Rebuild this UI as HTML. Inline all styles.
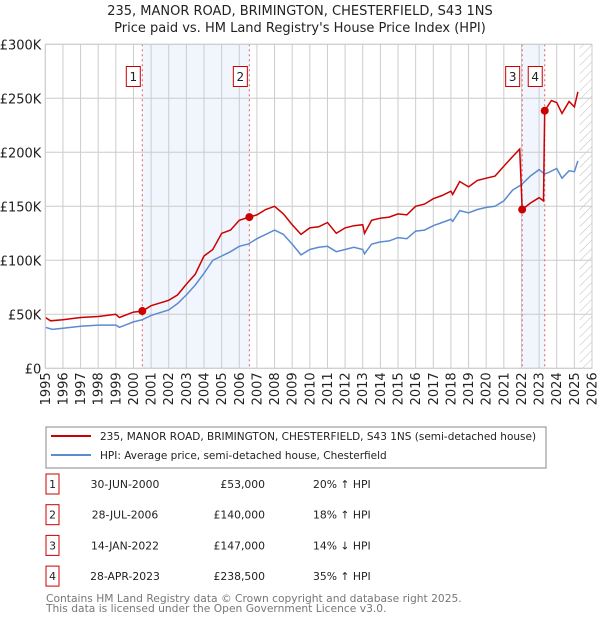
<!DOCTYPE html>
<html><head><meta charset="utf-8"><style>
body{margin:0;background:#fff;font-family:"Liberation Sans","DejaVu Sans",sans-serif;}
svg text{font-family:"DejaVu Sans","Liberation Sans",sans-serif;}
</style></head><body>
<svg width="600" height="620" xmlns="http://www.w3.org/2000/svg">
<defs><pattern id="hatch" width="6" height="6" patternUnits="userSpaceOnUse" patternTransform="rotate(45)"><line x1="0" y1="0" x2="0" y2="6" stroke="#bbb" stroke-width="1"/></pattern></defs>
<text x="300" y="15" text-anchor="middle" font-size="13" fill="#222">235, MANOR ROAD, BRIMINGTON, CHESTERFIELD, S43 1NS</text>
<text x="300" y="32" text-anchor="middle" font-size="13" fill="#222">Price paid vs. HM Land Registry's House Price Index (HPI)</text>
<g id="plot"></g>
<rect x="46" y="427" width="500" height="41" fill="#fff" stroke="#888"/>
<line x1="51" y1="436" x2="91" y2="436" stroke="#cc0000" stroke-width="2"/>
<text x="100" y="440" font-size="10.5" fill="#222">235, MANOR ROAD, BRIMINGTON, CHESTERFIELD, S43 1NS (semi-detached house)</text>
<line x1="51" y1="455" x2="91" y2="455" stroke="#5b8bd0" stroke-width="2"/>
<text x="100" y="459" font-size="10.5" fill="#222">HPI: Average price, semi-detached house, Chesterfield</text>
<g id="table" font-size="10.8" fill="#222"></g>
<text x="46" y="602" font-size="10.7" fill="#777">Contains HM Land Registry data © Crown copyright and database right 2025.</text>
<text x="46" y="612" font-size="10.7" fill="#777">This data is licensed under the Open Government Licence v3.0.</text>
</svg>
<script>
const hpiDates=[1995,1995.4,1996,1997,1998,1999,1999.2,2000,2000.5,2001,2002,2002.5,2003,2003.5,2004,2004.5,2005,2005.5,2006,2006.5,2007,2007.5,2008,2008.5,2009,2009.5,2010,2010.5,2011,2011.5,2012,2012.5,2013,2013.1,2013.5,2014,2014.5,2015,2015.5,2016,2016.5,2017,2017.5,2018,2018.1,2018.5,2019,2019.5,2020,2020.5,2021,2021.5,2022,2022.5,2023,2023.3,2023.5,2024,2024.3,2024.7,2025,2025.2];
const hpiValues=[38,36,37,39,40,40,38,43,45,49,54,60,68,77,88,100,104,108,113,115,120,124,128,124,115,105,110,112,113,108,110,112,110,106,115,117,118,121,120,127,128,132,135,138,136,146,144,147,149,150,155,165,170,178,184,180,181,185,176,183,182,192];
const priceDates=[1995,1995.3,1996,1997,1998,1999,1999.2,2000,2000.5,2001,2002,2002.5,2003,2003.5,2004,2004.5,2005,2005.5,2006,2006.57,2007,2007.5,2008,2008.5,2009,2009.5,2010,2010.5,2011,2011.5,2012,2012.5,2013,2013.1,2013.5,2014,2014.5,2015,2015.5,2016,2016.5,2017,2017.5,2018,2018.1,2018.5,2019,2019.5,2020,2020.5,2021,2021.5,2021.9,2022.04,2022.5,2023,2023.25,2023.32,2023.7,2024,2024.3,2024.7,2025,2025.2];
const priceValues=[47,44,45,47,48,50,47,52,53,58,63,68,78,87,104,110,125,128,137,140,142,147,150,143,133,124,130,131,135,125,130,132,133,125,137,139,140,143,142,150,152,157,160,164,161,173,168,174,176,178,187,196,203,147,153,158,155,238.5,248,246,236,247,242,256];
const saleLabels=["1","2","3","4"];
const saleDates=[2000.5,2006.57,2022.04,2023.32];
const salePrices=[53,140,147,238.5];
const saleDateText=["30-JUN-2000","28-JUL-2006","14-JAN-2022","28-APR-2023"];
const salePriceText=["£53,000","£140,000","£147,000","£238,500"];
const saleHpiText=["20% ↑ HPI","18% ↑ HPI","14% ↓ HPI","35% ↑ HPI"];
const yTicks=[0,50,100,150,200,250,300];
const yTickLabels=["£0","£50K","£100K","£150K","£200K","£250K","£300K"];
const xYears=[1995,1996,1997,1998,1999,2000,2001,2002,2003,2004,2005,2006,2007,2008,2009,2010,2011,2012,2013,2014,2015,2016,2017,2018,2019,2020,2021,2022,2023,2024,2025,2026];

const NS="http://www.w3.org/2000/svg";
const L=45.3,R=592,T=44.3,B=368.3;
const x=d=>L+(d-1995)*(R-L)/31;
const y=v=>B-v*(B-T)/300;
const plot=document.getElementById('plot');
function mk(tag,attrs,parent){const e=document.createElementNS(NS,tag);for(const k in attrs)e.setAttribute(k,attrs[k]);(parent||plot).appendChild(e);return e;}
let e;
e=mk('rect',{x:x(saleDates[0]),y:T,width:x(saleDates[1])-x(saleDates[0]),height:B-T,fill:'#eef3fd',opacity:0.8});


e=mk('rect',{x:x(saleDates[2]),y:T,width:x(saleDates[3])-x(saleDates[2]),height:B-T,fill:'#eef3fd',opacity:0.8});


e=mk('rect',{x:x(2025.3),y:T,width:R-x(2025.3),height:B-T,fill:'url(#hatch)'});


xYears.forEach(yr=>{
  e=mk('line',{x1:x(yr),x2:x(yr),y1:T,y2:B,stroke:'#ccc','stroke-width':1});
  
  
  e=mk('text',{x:0,y:0,'font-size':13,fill:'#222','text-anchor':'end',transform:`translate(${x(yr)+4.5},${B+4}) rotate(-90)`});
  e.textContent=yr;
  
  
});
yTicks.forEach((v,i)=>{
  e=mk('line',{x1:L,x2:R,y1:y(v),y2:y(v),stroke:'#ccc','stroke-width':1});
  
  
  e=mk('text',{x:L-4,y:y(v)+5,'font-size':13,fill:'#222','text-anchor':'end'});
  e.textContent=yTickLabels[i];
  
  
});
saleDates.forEach((d,i)=>{
  e=mk('line',{x1:x(d),x2:x(d),y1:T,y2:B,stroke:'#e06060','stroke-width':1,'stroke-dasharray':'2,3'});
  
  
});
e=mk('path',{d:hpiDates.map((d,i)=>(i?'L':'M')+x(d).toFixed(1)+','+y(hpiValues[i]).toFixed(1)).join(''),fill:'none',stroke:'#5b8bd0','stroke-width':1.5});


e=mk('path',{d:priceDates.map((d,i)=>(i?'L':'M')+x(d).toFixed(1)+','+y(priceValues[i]).toFixed(1)).join(''),fill:'none',stroke:'#cc0000','stroke-width':1.5});


saleDates.forEach((d,i)=>{
  e=mk('circle',{cx:x(d),cy:y(salePrices[i]),r:4,fill:'#cc0000'});
  
  
  const bx=x(d)-10+(i>=2?-0.5:0);
  e=mk('rect',{x:bx-6,y:66.5,width:14,height:20,fill:'#fff',stroke:'#cc0000','stroke-width':1});
  
  
  e=mk('text',{x:bx+1,y:81,'font-size':12,fill:'#222','text-anchor':'middle'});
  e.textContent=saleLabels[i];
  
  
});
e=mk('rect',{x:L,y:T,width:R-L,height:B-T,fill:'none',stroke:'#ccc'});


const tbl=document.getElementById('table');
saleLabels.forEach((s,i)=>{
  const ry=484+i*30.7;
  e=mk('rect',{x:46,y:ry-10,width:13,height:20,fill:'#fff',stroke:'#cc0000'},tbl);
  
  
  e=mk('text',{x:52.5,y:ry+4,'text-anchor':'middle'},tbl);e.textContent=s;
  
  
  e=mk('text',{x:125,y:ry+4,'text-anchor':'middle'},tbl);e.textContent=saleDateText[i];
  
  
  e=mk('text',{x:265,y:ry+4,'text-anchor':'end'},tbl);e.textContent=salePriceText[i];
  
  
  e=mk('text',{x:313,y:ry+4},tbl);e.textContent=saleHpiText[i];
  
  
});
</script>
</body></html>
